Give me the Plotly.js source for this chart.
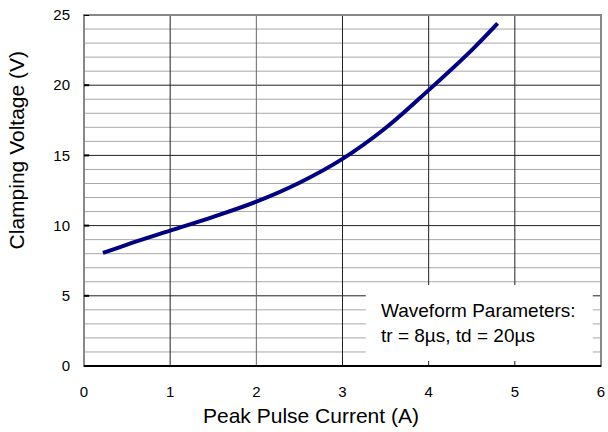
<!DOCTYPE html>
<html><head><meta charset="utf-8">
<script src="https://cdn.plot.ly/plotly-3.0.1.min.js"></script>
<style>html,body{margin:0;padding:0;background:#fff}#chart{width:608px;height:432px}</style>
</head><body><div id="chart"></div>
<script>
const current = [0.22, 0.5, 1.0, 1.5, 2.0, 2.5, 3.0, 3.5, 4.0, 4.5, 4.8];
const voltage = [8.05, 8.65, 9.64, 10.62, 11.7, 13.05, 14.75, 16.95, 19.65, 22.5, 24.4];
const xTicks = [0, 1, 2, 3, 4, 5, 6];
const yTicks = [0, 5, 10, 15, 20, 25];
const minorY = [1,2,3,4,6,7,8,9,11,12,13,14,16,17,18,19,21,22,23,24];
const xTitle = "Peak Pulse Current (A)";
const yTitle = "Clamping Voltage (V)";
const noteLines = ["Waveform Parameters:", "tr = 8\u00b5s, td = 20\u00b5s"];

const shapes = [];
minorY.forEach(v => shapes.push({type:'line', xref:'paper', yref:'y', x0:0, x1:1, y0:v, y1:v, line:{color:'#a8a8a8', width:1}, layer:'below'}));
yTicks.slice(1,5).forEach(v => shapes.push({type:'line', xref:'paper', yref:'y', x0:0, x1:1, y0:v, y1:v, line:{color:'#222', width:1}, layer:'below'}));
xTicks.slice(1,6).forEach(v => shapes.push({type:'line', xref:'x', yref:'paper', x0:v, x1:v, y0:0, y1:1, line:{color:(v===2?'#666':'#222'), width:1}, layer:'below'}));
// annotation box
shapes.push({type:'rect', xref:'x', yref:'y', x0:3.27, x1:5.905, y0:0.36, y1:5.77, fillcolor:'#fff', line:{width:0}, layer:'below'});
// frame
shapes.push({type:'rect', xref:'paper', yref:'paper', x0:0, x1:1, y0:0, y1:1, line:{color:'#888', width:2}});
shapes.push({type:'line', xref:'paper', yref:'paper', x0:0, x1:1, y0:0, y1:0, line:{color:'#000', width:2}});
yTicks.forEach(v => shapes.push({type:'line', xref:'paper', yref:'y', x0:0, x1:0.01, y0:v, y1:v, line:{color:'#000', width:2}}));

const data = [{
  x: current, y: voltage, mode:'lines', type:'scatter',
  line:{color:'#000080', width:4, shape:'spline', smoothing:1}, hoverinfo:'skip'
}];

const layout = {
  width:608, height:432,
  margin:{l:84, r:7, t:15, b:66},
  paper_bgcolor:'#fff', plot_bgcolor:'#fff',
  showlegend:false,
  font:{family:'"Liberation Sans", Arial, sans-serif', color:'#000'},
  xaxis:{range:[0,6], tickvals:xTicks, ticktext:xTicks.map(String), showgrid:false, zeroline:false,
    showline:false, ticks:'outside', ticklen:12, tickcolor:'rgba(0,0,0,0)', tickfont:{size:15}},
  yaxis:{range:[0,25], tickvals:yTicks, ticktext:yTicks.map(String), showgrid:false, zeroline:false,
    showline:false, ticks:'outside', ticklen:10, tickcolor:'rgba(0,0,0,0)', tickfont:{size:15}},
  shapes: shapes,
  annotations:[
    {xref:'x', yref:'y', x:3.42, y:3.05, xanchor:'left', yanchor:'middle', align:'left',
     showarrow:false, text: noteLines.join('<br>'), font:{size:19, color:'#000'}},
    {xref:'paper', yref:'paper', x:0.439, y:-0.142, xanchor:'center', yanchor:'middle',
     showarrow:false, text:xTitle, font:{size:21, color:'#000'}},
    {xref:'paper', yref:'paper', x:-0.131, y:0.615, xanchor:'center', yanchor:'middle', textangle:-90,
     showarrow:false, text:yTitle, font:{size:21, color:'#000'}}
  ]
};
Plotly.newPlot('chart', data, layout, {displayModeBar:false, staticPlot:true});
</script></body></html>
